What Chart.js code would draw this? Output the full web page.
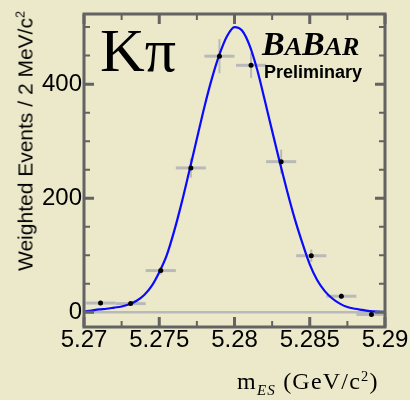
<!DOCTYPE html>
<html lang="en"><head><meta charset="UTF-8">
<title>K pi mES</title>
<script src="https://cdn.jsdelivr.net/npm/chart.js@4.4.1/dist/chart.umd.min.js"></script>
<style>
*{box-sizing:border-box;margin:0;padding:0;}
body{background:#EBE9C9;width:410px;height:400px;overflow:hidden;}
.wrap{position:relative;width:410px;height:400px;}
#c{position:absolute;left:0;top:0;}
.lbl{position:absolute;white-space:nowrap;line-height:1;color:#000;}
.kpi{left:100px;top:19px;font-family:'Liberation Serif',serif;font-size:62px;}
.babar{left:262px;top:27px;font-family:'Liberation Serif',serif;font-size:34px;font-weight:700;font-style:italic;}
.babar small{font-size:26px;}
.prel{left:264px;top:63px;font-family:'Liberation Sans',Arial,sans-serif;font-size:18px;font-weight:700;}
.ytitle{left:25px;top:141px;font-family:'Liberation Sans',Arial,sans-serif;font-size:21px;transform:translate(-50%,-50%) rotate(-90deg);}
.ytitle sup,.xtitle sup{font-size:60%;vertical-align:top;}
.xtitle{left:237px;top:369px;font-family:'Liberation Serif',serif;font-size:24px;letter-spacing:1.2px;}
.xtitle sub{font-size:15px;font-style:italic;vertical-align:-6px;}
</style></head>
<body><div class="wrap">
<canvas id="c" width="410" height="400"></canvas>
<div class="lbl kpi">Kπ</div>
<div class="lbl babar">B<small>A</small>B<small>AR</small></div>
<div class="lbl prel">Preliminary</div>
<div class="lbl ytitle">Weighted Events / 2 MeV/c<sup>2</sup></div>
<div class="lbl xtitle">m<sub>ES</sub> (GeV/c<sup>2</sup>)</div>
</div>
<script>
// binned data (2 MeV bins)
const binX   = [5.2711, 5.2731, 5.2751, 5.2771, 5.2790, 5.2811, 5.2831, 5.2851, 5.2871, 5.2891];
const binY   = [16, 15, 73, 253, 449, 433, 264, 99, 28, -4];
const binErr = [4, 4, 7, 17, 30, 22, 21, 11, 5, 4];
const binHalfWidth = 0.001;

// fitted curve, every 0.5 MeV
const fitX = [5.2700, 5.2705, 5.2710, 5.2715, 5.2720, 5.2725, 5.2730, 5.2735, 5.2740, 5.2745,
              5.2750, 5.2755, 5.2760, 5.2765, 5.2770, 5.2775, 5.2780, 5.2785, 5.2790, 5.2795,
              5.2800, 5.2805, 5.2810, 5.2815, 5.2820, 5.2825, 5.2830, 5.2835, 5.2840, 5.2845,
              5.2850, 5.2855, 5.2860, 5.2865, 5.2870, 5.2875, 5.2880, 5.2885, 5.2890, 5.2895, 5.2900];
const fitY = [1, 3, 5, 6, 8, 10, 14, 20, 30, 46,
              70, 100, 143, 193, 248, 304, 360, 410, 452, 484,
              500, 494, 468, 426, 373, 318, 264, 212, 164, 122,
              84, 56, 37, 24, 15, 9, 6, 4, 2, 1, 0.5];

// axis ticks
const xTicks = [5.27, 5.275, 5.28, 5.285, 5.29];
const xTickLabels = ['5.27', '5.275', '5.28', '5.285', '5.29'];
const xMinor = [5.2725, 5.2775, 5.2825, 5.2875];
const yTicks = [0, 200, 400];
const yMinor = [50, 100, 150, 250, 300, 350, 450, 500];

const AXIS = '#636363', BARS = '#B9B9B9';

const frame = {
  id: 'frame',
  beforeDatasetsDraw(chart) {
    const { ctx, chartArea: a, scales: { x, y } } = chart;
    ctx.save();
    // zero line
    ctx.strokeStyle = BARS; ctx.lineWidth = 2.5;
    ctx.beginPath();
    ctx.moveTo(a.left, y.getPixelForValue(0));
    ctx.lineTo(a.right, y.getPixelForValue(0));
    ctx.stroke();
    // error bars
    binX.forEach((bx, i) => {
      const px = x.getPixelForValue(bx), py = y.getPixelForValue(binY[i]);
      ctx.lineWidth = 3;
      ctx.beginPath();
      ctx.moveTo(x.getPixelForValue(bx - binHalfWidth), py);
      ctx.lineTo(x.getPixelForValue(bx + binHalfWidth), py);
      ctx.stroke();
      ctx.lineWidth = 2;
      ctx.beginPath();
      ctx.moveTo(px, y.getPixelForValue(binY[i] - binErr[i]));
      ctx.lineTo(px, y.getPixelForValue(binY[i] + binErr[i]));
      ctx.stroke();
    });
    ctx.restore();
  },
  afterDatasetsDraw(chart) {
    const { ctx, chartArea: a, scales: { x, y } } = chart;
    ctx.save();
    ctx.strokeStyle = AXIS;
    const tick = (vals, len, w) => {
      ctx.lineWidth = w;
      ctx.beginPath();
      vals.x.forEach(v => {
        const p = x.getPixelForValue(v);
        ctx.moveTo(p, a.bottom); ctx.lineTo(p, a.bottom - len);
        ctx.moveTo(p, a.top); ctx.lineTo(p, a.top + len);
      });
      vals.y.forEach(v => {
        const p = y.getPixelForValue(v);
        ctx.moveTo(a.left, p); ctx.lineTo(a.left + len, p);
        ctx.moveTo(a.right, p); ctx.lineTo(a.right - len, p);
      });
      ctx.stroke();
    };
    tick({ x: xTicks, y: yTicks }, 10, 3);
    tick({ x: xMinor, y: yMinor }, 6, 2);
    ctx.lineWidth = 3;
    ctx.strokeRect(a.left, a.top, a.right - a.left, a.bottom - a.top);
    ctx.restore();
  }
};

new Chart(document.getElementById('c'), {
  type: 'scatter',
  data: {
    datasets: [
      { data: binX.map((v, i) => ({ x: v, y: binY[i] })), pointRadius: 2.5, pointBackgroundColor: '#000',
        pointBorderWidth: 0, showLine: false },
      { data: fitX.map((v, i) => ({ x: v, y: fitY[i] })), showLine: true, borderColor: '#0A0AFF',
        borderWidth: 2.2, pointRadius: 0, cubicInterpolationMode: 'monotone' }
    ]
  },
  options: {
    responsive: false, animation: false, devicePixelRatio: 1,
    layout: { padding: { top: 10, right: 25, left: 0, bottom: 0 } },
    plugins: { legend: { display: false }, tooltip: { enabled: false } },
    scales: {
      x: {
        type: 'linear', min: 5.27, max: 5.29,
        afterBuildTicks: s => { s.ticks = xTicks.map(v => ({ value: v })); },
        afterFit: s => { s.height = 73; },
        grid: { display: false, drawTicks: false }, border: { display: false },
        ticks: { callback: (v, i) => xTickLabels[i], color: '#000', padding: 1, maxRotation: 0,
                 font: { family: 'Liberation Sans', size: 24, lineHeight: 1 } }
      },
      y: {
        min: -26, max: 523,
        afterBuildTicks: s => { s.ticks = yTicks.map(v => ({ value: v })); },
        afterFit: s => { s.width = 84; },
        grid: { display: false, drawTicks: false }, border: { display: false },
        ticks: { color: '#000', padding: 2, font: { family: 'Liberation Sans', size: 24, lineHeight: 1 } }
      }
    }
  },
  plugins: [frame]
});
</script>
</body></html>
